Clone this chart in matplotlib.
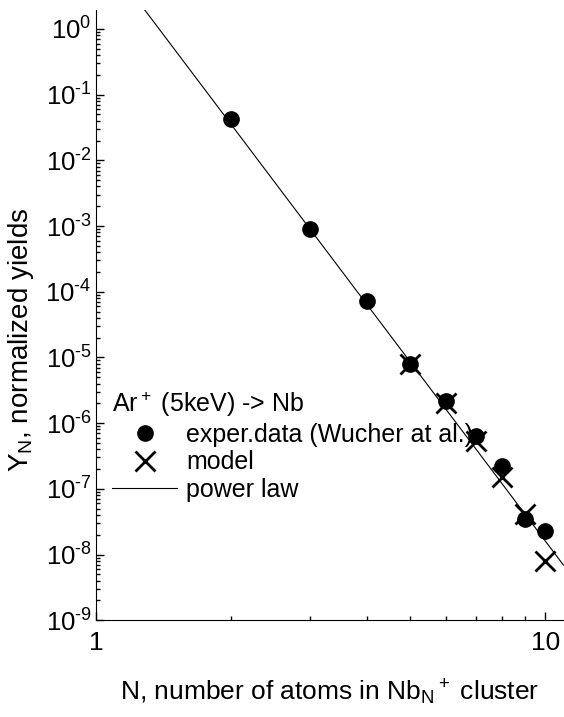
import matplotlib
matplotlib.use("Agg")
import matplotlib.pyplot as plt
from matplotlib.ticker import LogLocator, FixedLocator, NullFormatter

plt.rcParams['font.family'] = ['Liberation Sans', 'DejaVu Sans']
plt.rcParams['mathtext.fontset'] = 'custom'
plt.rcParams['mathtext.rm'] = 'Liberation Sans'
plt.rcParams['mathtext.it'] = 'Liberation Sans'
plt.rcParams['mathtext.default'] = 'regular'

# experimental data (Wucher et al.)
exp_n = [2, 3, 4, 5, 6, 7, 8, 9, 10]
exp_y = [4.2e-2, 8.9e-4, 7.2e-5, 7.9e-6, 2.2e-6, 6.4e-7, 2.2e-7, 3.5e-8, 2.3e-8]

# model
model_n = [5, 6, 7, 8, 9, 10]
model_y = [7.9e-6, 2.0e-6, 5.4e-7, 1.5e-7, 4.2e-8, 7.9e-9]

# power law, end points
law_n = [1.285, 10.97]
law_y = [1.94, 6.9e-9]

decades = list(range(-9, 1))

fig = plt.figure(figsize=(5.64, 7.17), dpi=100)
ax = fig.add_axes([0.170, 0.135, 0.830, 0.851])

ax.plot(law_n, law_y, color='black', lw=0.8, label='power law')
ax.plot(exp_n, exp_y, 'o', color='black', ms=11, label='exper.data (Wucher at al.)')
ax.plot(model_n, model_y, 'x', color='black', ms=14, mew=2.0, label='model')

ax.set_xscale('log')
ax.set_yscale('log')
ax.set_xlim(1, 11)
ax.set_ylim(1e-9, 1.94)

ax.spines['top'].set_visible(False)
ax.spines['right'].set_visible(False)

ax.xaxis.set_major_locator(FixedLocator([1, 10]))
ax.set_xticklabels(['1', '10'])
ax.xaxis.set_minor_locator(FixedLocator([2, 3, 4, 5, 6, 7, 8, 9]))
ax.xaxis.set_minor_formatter(NullFormatter())

ax.yaxis.set_minor_locator(LogLocator(base=10, subs=range(2, 10), numticks=20))
ax.yaxis.set_minor_formatter(NullFormatter())
ax.set_yticks([10.0 ** k for k in decades])
ax.set_yticklabels(['$10^{\\text{%d}}$' % k for k in decades])

ax.tick_params(which='both', direction='in', width=1)
ax.tick_params(which='major', length=6)
ax.tick_params(which='minor', length=3)
ax.tick_params(axis='x', pad=8, labelsize=19)
ax.tick_params(axis='y', pad=3, labelsize=18.5)

ax.set_xlabel('N, number of atoms in Nb$_N{}^+$ cluster', fontsize=19, labelpad=16)
ax.set_ylabel('Y$_N$, normalized yields', fontsize=20)
ax.yaxis.set_label_coords(-0.128, 0.46)

h, l = ax.get_legend_handles_labels()
order = [1, 2, 0]
ax.legend([h[i] for i in order], [l[i] for i in order],
          title='Ar$^+$ (5keV) -> Nb', title_fontsize=18, fontsize=18,
          frameon=False, alignment='left', loc='upper left',
          bbox_to_anchor=(0.035, 0.378), borderpad=0, borderaxespad=0,
          handlelength=2.6, handletextpad=0.35, labelspacing=0.15)

fig.savefig('out.png', dpi=100)
